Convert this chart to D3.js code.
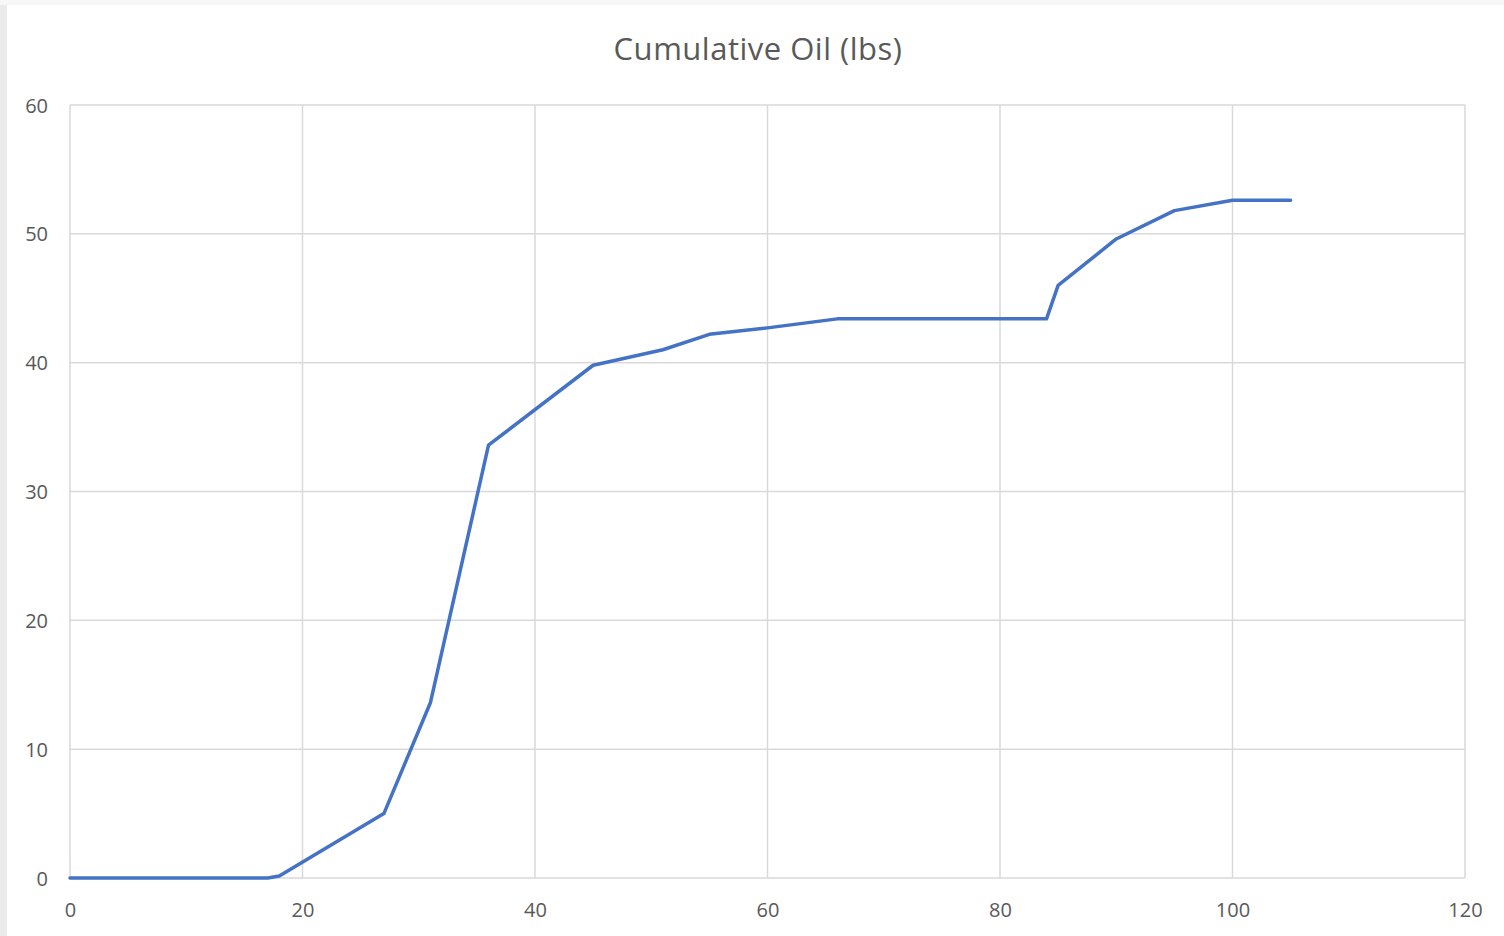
<!DOCTYPE html>
<html><head><meta charset="utf-8">
<script src="https://cdn.jsdelivr.net/npm/d3@7"></script>
<style>
html,body{margin:0;padding:0;background:#ffffff;}
svg{display:block;}
</style></head>
<body>
<svg id="chart" width="1504" height="936"></svg>
<script>
const title = "Cumulative Oil (lbs)";
const xValues = [0, 17, 18, 27, 31, 36, 45, 51, 55, 60, 66, 84, 85, 90, 95, 100, 105];
const yValues = [0, 0, 0.15, 5, 13.6, 33.6, 39.8, 41, 42.2, 42.7, 43.4, 43.4, 46, 49.6, 51.8, 52.6, 52.6];
const xTicks = [0, 20, 40, 60, 80, 100, 120];
const yTicks = [0, 10, 20, 30, 40, 50, 60];

(function(){
const svg = d3.select("#chart");
const W = 1504, H = 936;
svg.append("rect").attr("x",0).attr("y",0).attr("width",W).attr("height",H).attr("fill","#f7f7f7");
svg.append("rect").attr("x",0).attr("y",5).attr("width",7).attr("height",H).attr("fill","#ebebeb");
svg.append("rect").attr("x",7).attr("y",5).attr("width",W-7).attr("height",H-5).attr("fill","#ffffff");

const pL = 70, pR = 1465, pT = 105, pB = 878;
const x = d3.scaleLinear().domain([0,120]).range([pL,pR]);
const y = d3.scaleLinear().domain([0,60]).range([pB,pT]);

const font = "'Open Sans', 'Noto Sans', sans-serif";
const grid = svg.append("g");
grid.selectAll("line.v").data(xTicks).join("line")
  .attr("x1",d=>x(d)).attr("x2",d=>x(d)).attr("y1",pT).attr("y2",pB)
  .attr("stroke","#d9d9d9").attr("stroke-width",1.5);
grid.selectAll("line.h").data(yTicks).join("line")
  .attr("x1",pL).attr("x2",pR).attr("y1",d=>y(d)).attr("y2",d=>y(d))
  .attr("stroke","#d9d9d9").attr("stroke-width",1.5);

const xAxis = d3.axisBottom(x).tickValues(xTicks).tickSize(0).tickPadding(0);
const gx = svg.append("g").attr("transform",`translate(0,${pB})`).call(xAxis);
gx.select(".domain").remove();
gx.selectAll("text").attr("y",39).attr("dy",0).attr("fill","#595959")
  .style("font-family",font).style("font-size","20px");

const yAxis = d3.axisLeft(y).tickValues(yTicks).tickSize(0).tickPadding(0);
const gy = svg.append("g").attr("transform",`translate(48,0)`).call(yAxis);
gy.select(".domain").remove();
gy.selectAll("text").attr("x",0).attr("dy","0.35em").attr("fill","#595959")
  .style("font-family",font).style("font-size","20px");

const data = xValues.map((v,i)=>({x:v,y:yValues[i]}));
svg.append("path").datum(data)
  .attr("fill","none").attr("stroke","#4472C4").attr("stroke-width",3.5)
  .attr("stroke-linejoin","round").attr("stroke-linecap","round")
  .attr("d", d3.line().x(d=>x(d.x)).y(d=>y(d.y)));

svg.append("text").attr("x",758).attr("y",60).attr("text-anchor","middle")
  .attr("fill","#595959").style("font-family",font).style("font-size","31px")
  .style("letter-spacing","0.5px")
  .text(title);
})();
</script>
</body></html>
